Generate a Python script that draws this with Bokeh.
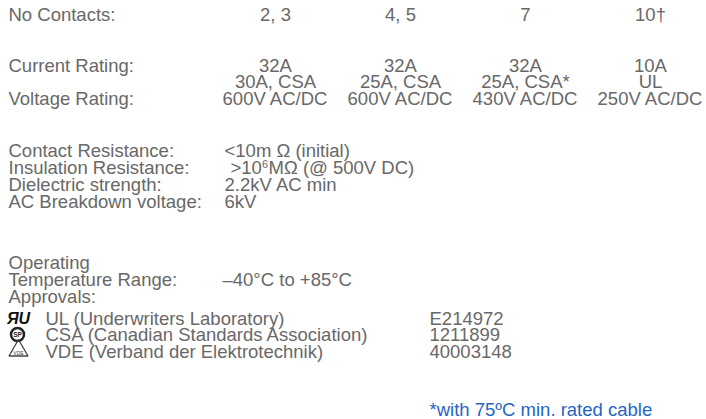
from bokeh.plotting import figure
from bokeh.models import Range1d, ColumnDataSource
from bokeh.core.properties import value
from bokeh.embed import file_html
from bokeh.resources import INLINE

# ---------------- data (texts) ----------------
row_labels = ["No Contacts:", "Current Rating:", "Voltage Rating:"]
contacts = ["2, 3", "4, 5", "7", "10\u2020"]
current_main = ["32A", "32A", "32A", "10A"]
current_sub = ["30A, CSA", "25A, CSA", "25A, CSA*", "UL"]
voltage = ["600V AC/DC", "600V AC/DC", "430V AC/DC", "250V AC/DC"]

spec_labels = ["Contact Resistance:", "Insulation Resistance:",
               "Dielectric strength:", "AC Breakdown voltage:"]
spec_values = ["<10m \u03a9 (initial)", "", "2.2kV AC min", "6kV"]
insulation_parts = [">10", "6", "M\u03a9 (@ 500V DC)"]

op_labels = ["Operating", "Temperature Range:", "Approvals:"]
temp_value = "\u201340\u00b0C to +85\u00b0C"

approvals = ["UL (Underwriters Laboratory)",
             "CSA (Canadian Standards Association)",
             "VDE (Verband der Elektrotechnik)"]
approval_nums = ["E214972", "1211899", "40003148"]
footnote = "*with 75\u00baC min. rated cable"

# ---------------- layout ----------------
FONT = value("Liberation Sans")
SIZE = "18.5px"
GREY = "#686868"
BLUE = "#1f66c4"

col_x = [275, 400, 525, 650]
label_x = 8
value_x = 224
y_top = [14, 65, 81, 98]
y_spec = [150, 167, 184, 201]
y_op = [262, 279, 296]
y_appr = [318, 334, 351]
y_foot = 409

p = figure(width=706, height=419, output_backend="svg", toolbar_location=None,
           x_range=Range1d(0, 706), y_range=Range1d(419, 0), min_border=0)
p.axis.visible = False
p.grid.visible = False
p.outline_line_color = None
p.background_fill_color = "white"
p.border_fill_color = "white"


def txt(xs, ys, texts, align="left", color=GREY, size=SIZE, style="normal"):
    src = ColumnDataSource(dict(x=xs, y=ys, t=texts))
    p.text(x="x", y="y", text="t", source=src, text_font=FONT,
           text_font_size=size, text_color=color, text_align=align,
           text_baseline="middle", text_font_style=style)


# header rows
txt([label_x] * 3, [y_top[0], y_top[1], y_top[3]], row_labels)
txt(col_x, [y_top[0]] * 4, contacts, align="center")
txt(col_x, [y_top[1]] * 4, current_main, align="center")
txt(col_x, [y_top[2]] * 4, current_sub, align="center")
txt(col_x, [y_top[3]] * 4, voltage, align="center")

# specs
txt([label_x] * 4, y_spec, spec_labels)
txt([value_x, value_x, value_x], [y_spec[0], y_spec[2], y_spec[3]],
    [spec_values[0], spec_values[2], spec_values[3]])
ins_x = value_x + 6
txt([ins_x], [y_spec[1]], [insulation_parts[0]])
txt([ins_x + 31.5], [y_spec[1] - 4], [insulation_parts[1]], size="11px")
txt([ins_x + 38], [y_spec[1]], [insulation_parts[2]])

# operating
txt([label_x] * 3, y_op, op_labels)
txt([value_x - 2], [y_op[1]], [temp_value])

# approvals
txt([45] * 3, y_appr, approvals)
txt([429] * 3, y_appr, approval_nums)

# icons
txt([18], [y_appr[0]], ["\u042fU"], align="center", color="#111111", size="16px", style="bold italic")
p.scatter([17], [y_appr[1]], marker="circle", size=13, fill_color="white",
          line_color="#222222", line_width=2.5)
txt([17], [y_appr[1]], ["SP"], align="center", color="#222222", size="6.5px", style="bold")
p.scatter([18], [y_appr[2] - 1], marker="triangle", size=19, fill_color=None,
          line_color="#444444", line_width=1.3)
txt([18], [y_appr[2] + 1], ["VDE"], align="center", color="#444444", size="5px")

# footnote
txt([429], [y_foot], [footnote], color=BLUE)

open("out.html", "w").write(file_html(p, INLINE))
